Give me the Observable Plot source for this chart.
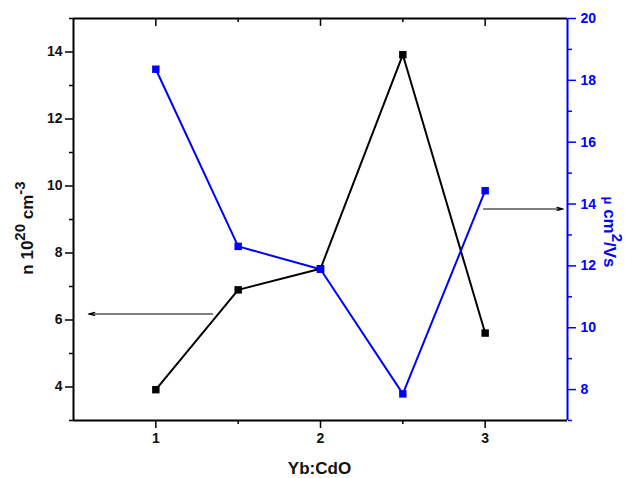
<!DOCTYPE html>
<html>
<head>
<meta charset="utf-8">
<script src="https://cdn.jsdelivr.net/npm/d3@7"></script>
<script src="https://cdn.jsdelivr.net/npm/@observablehq/plot@0.6"></script>
<style>
  html, body { margin: 0; padding: 0; background: #fff; }
  #chart { position: relative; width: 625px; height: 478px; }
  #chart svg { position: absolute; left: 0; top: 0; }
</style>
</head>
<body>
<div id="chart"></div>
<script>
// ---- data ----
const ratio = [1, 1.5, 2, 2.5, 3];
const carrierN = [3.92, 6.90, 7.53, 13.92, 5.61];      // n 10^20 cm^-3 (left axis)
const mobility = [18.36, 12.63, 11.89, 7.86, 14.43];   // mu cm^2/Vs (right axis)
const xMajor = [1, 2, 3];
const xMinor = [1.5, 2.5];
const nMajor = [4, 6, 8, 10, 12, 14];
const nMinor = [3, 5, 7, 9, 11, 13, 15];
const muMajor = [8, 10, 12, 14, 16, 18, 20];
const muMinor = [7, 9, 11, 13, 15, 17, 19];
const leftArrow = [{x1: 1.345, y1: 6.18, x2: 0.59, y2: 6.18}];
const rightArrow = [{x1: 2.99, y1: 13.84, x2: 3.475, y2: 13.84}];

const nData = ratio.map((x, i) => ({x, y: carrierN[i]}));
const muData = ratio.map((x, i) => ({x, y: mobility[i]}));

const W = 625, H = 478, mL = 73, mR = 58, mT = 18, mB = 58;
const innerH = H - mT - mB;
const BLUE = "#0000ff";
const font = "'Liberation Sans', Arial, sans-serif";
const common = {
  width: W, height: H, marginLeft: mL, marginRight: mR, marginTop: mT, marginBottom: mB,
  style: {fontFamily: font, fontSize: "14px", fontWeight: "bold", background: "transparent", overflow: "visible"}
};

const p1 = Plot.plot({
  ...common,
  x: {domain: [0.5, 3.5]},
  y: {domain: [3, 15]},
  marks: [
    Plot.axisX({ticks: xMajor, tickSize: 8, tickPadding: 5, tickFormat: d3.format("d"), label: null, strokeWidth: 1.5, fill: "#111"}),
    Plot.axisX({ticks: xMinor, tickSize: 4, tickFormat: () => "", label: null, strokeWidth: 1.5}),
    Plot.tickX(xMajor, {x: d => d, insetBottom: innerH - 8, strokeWidth: 1.5}),
    Plot.tickX(xMinor, {x: d => d, insetBottom: innerH - 4, strokeWidth: 1.5}),
    Plot.axisY({ticks: nMajor, tickSize: 8, tickPadding: 3, label: null, strokeWidth: 1.5, fill: "#111"}),
    Plot.axisY({ticks: nMinor, tickSize: 4, tickFormat: () => "", label: null, strokeWidth: 1.5}),
    Plot.ruleY([3], {strokeWidth: 2}),
    Plot.ruleY([15], {strokeWidth: 2}),
    Plot.ruleX([0.5], {strokeWidth: 2}),
    Plot.line(nData, {x: "x", y: "y", stroke: "black", strokeWidth: 2}),
    Plot.dot(nData, {x: "x", y: "y", symbol: "square", r: 4.2, fill: "black", stroke: "none"}),
    Plot.arrow(leftArrow, {x1: "x1", y1: "y1", x2: "x2", y2: "y2", stroke: "black", strokeWidth: 1.1, headLength: 9, headAngle: 28})
  ]
});

const p2 = Plot.plot({
  ...common,
  x: {domain: [0.5, 3.5], axis: null},
  y: {domain: [7, 20]},
  marks: [
    Plot.axisY({anchor: "right", ticks: muMajor, tickSize: 8, tickPadding: 5, label: null, stroke: BLUE, fill: BLUE, strokeWidth: 1.5}),
    Plot.axisY({anchor: "right", ticks: muMinor, tickSize: 4, tickFormat: () => "", label: null, stroke: BLUE, strokeWidth: 1.5}),
    Plot.ruleX([3.5], {stroke: BLUE, strokeWidth: 2}),
    Plot.line(muData, {x: "x", y: "y", stroke: BLUE, strokeWidth: 2}),
    Plot.dot(muData, {x: "x", y: "y", symbol: "square", r: 4.2, fill: BLUE, stroke: "none"}),
    Plot.arrow(rightArrow, {x1: "x1", y1: "y1", x2: "x2", y2: "y2", stroke: "black", strokeWidth: 1.1, headLength: 9, headAngle: 28})
  ]
});

const chart = document.getElementById("chart");
chart.append(p1, p2);

// axis titles with superscripts
const s1 = d3.select(p1);
const s2 = d3.select(p2);

s1.append("text")
  .attr("x", W / 2 + 7).attr("y", 474)
  .attr("text-anchor", "middle")
  .style("font-family", font).style("font-size", "17px").style("font-weight", "bold").attr("fill", "#111")
  .text("Yb:CdO");

const lt = s1.append("text")
  .attr("transform", "translate(33,228) rotate(-90)")
  .attr("text-anchor", "middle")
  .style("font-family", font).style("font-size", "17px").style("font-weight", "bold").attr("fill", "#111");
lt.append("tspan").text("n 10");
lt.append("tspan").attr("dy", -8).style("font-size", "15px").text("20");
lt.append("tspan").attr("dy", 8).text(" cm");
lt.append("tspan").attr("dy", -8).style("font-size", "15px").text("-3");

const rt = s2.append("text")
  .attr("transform", "translate(604,232) rotate(90)")
  .attr("text-anchor", "middle")
  .style("font-family", font).style("font-size", "17px").style("font-weight", "bold").attr("fill", BLUE);
rt.append("tspan").style("font-size", "13px").text("\u03bc");
rt.append("tspan").text(" cm");
rt.append("tspan").attr("dy", -8).style("font-size", "15px").text("2");
rt.append("tspan").attr("dy", 8).text("/Vs");
</script>
</body>
</html>
